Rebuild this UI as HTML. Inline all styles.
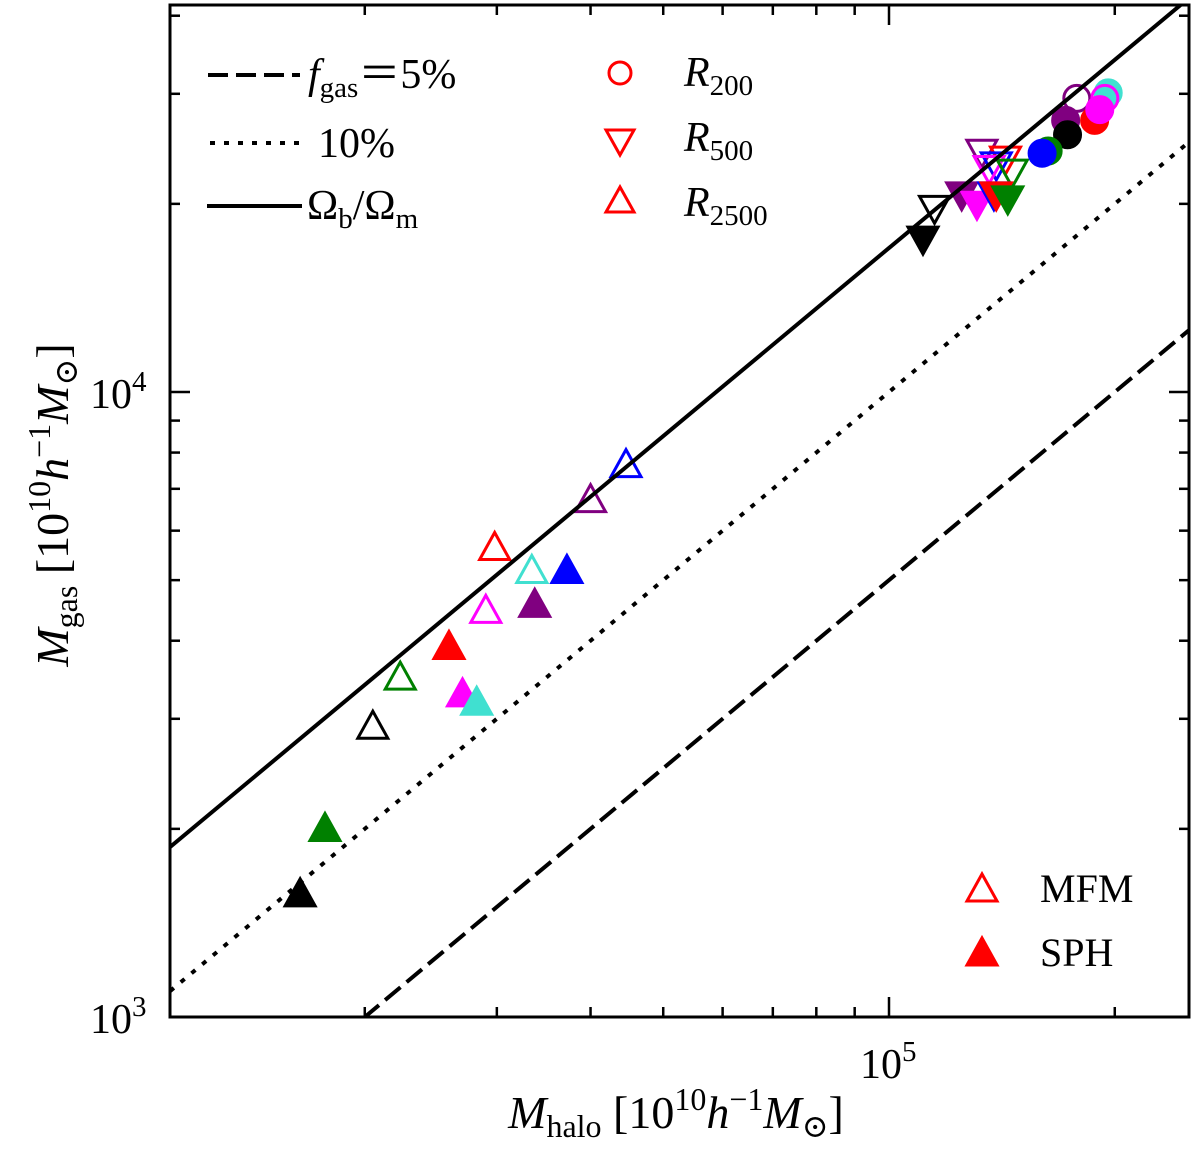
<!DOCTYPE html>
<html><head><meta charset="utf-8"><style>
body{margin:0;background:#fff}
svg text, svg tspan{font-family:"Liberation Serif","DejaVu Serif",serif;fill:#000}
</style></head><body>
<svg id="chart" width="1200" height="1147" viewBox="0 0 1200 1147" xmlns="http://www.w3.org/2000/svg" font-family="Liberation Serif, serif">
<g id="marks"></g>
<g id="lines"></g>
<rect x="170" y="5" width="1019" height="1012" fill="none" stroke="#000" stroke-width="3"/>
<g id="ticks"></g>
<text x="90" y="408" font-size="42">10<tspan dy="-17" font-size="29">4</tspan></text>
<text x="90" y="1033" font-size="42">10<tspan dy="-17" font-size="29">3</tspan></text>
<text x="860" y="1078" font-size="42">10<tspan dy="-17" font-size="29">5</tspan></text>
<text x="676" y="1128" font-size="46" text-anchor="middle"><tspan font-style="italic">M</tspan><tspan font-size="32" dy="9">halo</tspan><tspan dy="-9"> [10</tspan><tspan font-size="32" dy="-18">10</tspan><tspan dy="18" font-style="italic">h</tspan><tspan font-size="32" dy="-18">−1</tspan><tspan dy="18" font-style="italic">M</tspan><tspan font-size="32" dy="9">⊙</tspan><tspan dy="-9">]</tspan></text>
<text transform="translate(68,505) rotate(-90)" font-size="46" text-anchor="middle"><tspan font-style="italic">M</tspan><tspan font-size="32" dy="9">gas</tspan><tspan dy="-9"> [10</tspan><tspan font-size="32" dy="-18">10</tspan><tspan dy="18" font-style="italic">h</tspan><tspan font-size="32" dy="-18">−1</tspan><tspan dy="18" font-style="italic">M</tspan><tspan font-size="32" dy="9">⊙</tspan><tspan dy="-9">]</tspan></text>
<g>
<line x1="208" y1="75" x2="300" y2="75" stroke="#000" stroke-width="4" stroke-dasharray="20,8"/>
<text x="308" y="88" font-size="42"><tspan font-style="italic">f</tspan><tspan font-size="29" dy="9">gas</tspan><tspan dy="-9">＝5%</tspan></text>
<line x1="210" y1="143" x2="300" y2="143" stroke="#000" stroke-width="4" stroke-dasharray="5,9"/>
<text x="318" y="157" font-size="42">10%</text>
<line x1="207" y1="206" x2="302" y2="206" stroke="#000" stroke-width="4"/>
<text x="307" y="219" font-size="42">Ω<tspan font-size="29" dy="9">b</tspan><tspan dy="-9">/Ω</tspan><tspan font-size="29" dy="9">m</tspan></text>
</g>
<g>
<circle cx="620" cy="73" r="11" fill="none" stroke="red" stroke-width="3"/>
<text x="684" y="86" font-size="42"><tspan font-style="italic">R</tspan><tspan font-size="29" dy="9">200</tspan></text>
<polygon points="606,130 634,130 620,155" fill="none" stroke="red" stroke-width="3"/>
<text x="684" y="151" font-size="42"><tspan font-style="italic">R</tspan><tspan font-size="29" dy="9">500</tspan></text>
<polygon points="606,212 634,212 620,187" fill="none" stroke="red" stroke-width="3"/>
<text x="684" y="216" font-size="42"><tspan font-style="italic">R</tspan><tspan font-size="29" dy="9">2500</tspan></text>
</g>
<g>
<polygon points="967,901 997,901 982,874" fill="none" stroke="red" stroke-width="3"/>
<text x="1040" y="902" font-size="40">MFM</text>
<polygon points="967,965 997,965 982,938" fill="red" stroke="red" stroke-width="3"/>
<text x="1040" y="966" font-size="40">SPH</text>
</g>
</svg>
<script>
// data
const circleMh   = [178000,196000,194000,188000,191000,172000,173000,163000,160000];
const circleMgas = [29500,30100,29500,27200,28300,27200,25800,24300,24100];
const circleCol  = ['purple','turquoise','magenta','red','magenta','purple','black','green','blue'];
const circleFill = [0,1,0,1,1,1,1,1,1];
const downMh   = [133000,143000,139000,136000,146000,125000,131000,138000,139000,144000,115000,111000];
const downMgas = [24100,23500,23000,22700,22400,20600,19900,20600,20600,20300,19600,17500];
const downCol  = ['purple','red','blue','magenta','green','purple','magenta','blue','red','green','black','black'];
const downFill = [0,0,0,0,0,1,1,1,1,1,0,1];
const upMh   = [44600,40000,29800,33400,37200,29000,33700,25900,22300,27000,28200,20500,17700,16400];
const upMgas = [7680,6750,5660,5200,5200,4490,4590,3930,3510,3300,3200,2930,2010,1580];
const upCol  = ['blue','purple','red','turquoise','blue','magenta','purple','red','green','magenta','turquoise','black','green','black'];
const upFill = [0,0,0,0,1,0,1,1,0,1,1,0,1,1];
const fractions = [0.05,0.10,0.17];
const xMinorTicks = [20000,30000,40000,50000,60000,70000,80000,90000,200000];
const yMinorTicks = [2000,3000,4000,5000,6000,7000,8000,9000,20000,30000,40000];

const NS='http://www.w3.org/2000/svg';
const X0=170,X1=1189,Y0=5,Y1=1017;
function xs(v){return 889+(Math.log10(v)-5)*750;}
function ys(v){return 392-(Math.log10(v)-4)*625;}
const marks=document.getElementById('marks');
function mk(tag,attrs,parent){const e=document.createElementNS(NS,tag);for(const k in attrs)e.setAttribute(k,attrs[k]);parent.appendChild(e);return e;}
function tri(x,y,down){const h=13;return down?`${x-15},${y-h} ${x+15},${y-h} ${x},${y+h+1}`:`${x-15},${y+h} ${x+15},${y+h} ${x},${y-h-1}`;}
upMh.forEach((m,i)=>{
  const e=mk('polygon',{points:tri(xs(m),ys(upMgas[i]),false),fill:upFill[i]?upCol[i]:'none',stroke:upCol[i],'stroke-width':3},marks);
  
  
});
downMh.forEach((m,i)=>{
  const e=mk('polygon',{points:tri(xs(m),ys(downMgas[i]),true),fill:downFill[i]?downCol[i]:'none',stroke:downCol[i],'stroke-width':3},marks);
  
  
});
circleMh.forEach((m,i)=>{
  const e=mk('circle',{cx:xs(m),cy:ys(circleMgas[i]),r:13,fill:circleFill[i]?circleCol[i]:'none',stroke:circleCol[i],'stroke-width':3},marks);
  
  
});
const lines=document.getElementById('lines');
const dashes=['20,8','5,9','none'];
const lnames=['fgas-5-line','fgas-10-line','baryon-fraction-line'];
fractions.forEach((f,i)=>{
  const mA=Math.pow(10,(X0-889)/750+5), mB=Math.pow(10,(X1-889)/750+5);
  const e=mk('line',{x1:X0,y1:ys(mA*f),x2:X1,y2:ys(mB*f),stroke:'#000','stroke-width':4,'stroke-dasharray':dashes[i]},lines);
  
  
});
const cp=mk('clipPath',{id:'clip'},document.getElementById('chart'));
mk('rect',{x:X0,y:Y0,width:X1-X0,height:Y1-Y0},cp);
lines.setAttribute('clip-path','url(#clip)');
marks.setAttribute('clip-path','url(#clip)');
const tk=document.getElementById('ticks');
function tick(x1,y1,x2,y2){mk('line',{x1,y1,x2,y2,stroke:'#000','stroke-width':2.5},tk);}
xMinorTicks.forEach(v=>{const x=xs(v);tick(x,Y1,x,Y1-10);tick(x,Y0,x,Y0+10);});
tick(xs(100000),Y1,xs(100000),Y1-20);tick(xs(100000),Y0,xs(100000),Y0+20);
yMinorTicks.forEach(v=>{const y=ys(v);tick(X0,y,X0+10,y);tick(X1,y,X1-10,y);});
tick(X0,ys(10000),X0+20,ys(10000));tick(X1,ys(10000),X1-20,ys(10000));
</script>
</body></html>
